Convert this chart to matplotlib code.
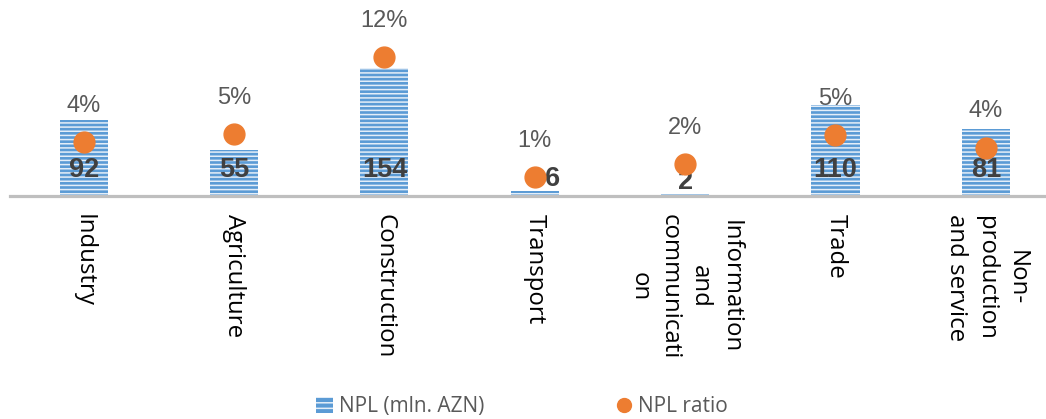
import matplotlib.pyplot as plt
from matplotlib.patches import Patch
from matplotlib.lines import Line2D

sectors = ["Industry", "Agriculture", "Construction", "Transport",
           "Information\nand\ncommunicati\non", "Trade",
           "Non-\nproduction\nand service"]
npl_mln = [92, 55, 154, 6, 2, 110, 81]
npl_ratio = [4.0, 4.7, 11.7, 0.8, 2.0, 4.6, 3.5]

BAR_BLUE = "#5b9bd5"
STRIPE = "#e4eef8"
ORANGE = "#ed7d31"

plt.rcParams["hatch.linewidth"] = 1.1

W, H = 1046, 419
fig = plt.figure(figsize=(W / 100, H / 100), dpi=100)
ax = fig.add_axes([10 / W, (H - 196) / H, 1036 / W, 196 / H])
ax2 = ax.twinx()

x = list(range(len(sectors)))
ax.bar(x, npl_mln, width=0.32, color=BAR_BLUE, edgecolor=STRIPE,
       linewidth=0, hatch="----", zorder=2)
ax2.plot(x, npl_ratio, "o", color=ORANGE, markersize=15, zorder=3)

ax.set_xlim(-0.49, 6.40)
ax.set_ylim(0, 236)
ax2.set_ylim(-0.909, 16.91)

# bar value labels
for i, v in enumerate(npl_mln):
    if v >= 31:
        ax.annotate(str(v), (i, 0), xytext=(0, 19), textcoords="offset points",
                    ha="center", va="center", fontsize=19.5, fontweight="bold",
                    color="#404040", family="Liberation Sans", zorder=5)
    else:
        dx = 13 if i == 3 else 0
        ax.annotate(str(v), (i, v), xytext=(dx, 9), textcoords="offset points",
                    ha="center", va="center", fontsize=19.5, fontweight="bold",
                    color="#404040", family="Liberation Sans", zorder=5)

# ratio labels
for i, r in enumerate(npl_ratio):
    ax2.annotate(f"{r:.0f}%", (i, r), xytext=(0, 26), textcoords="offset points",
                 ha="center", va="center", fontsize=17, color="#595959",
                 family="Liberation Sans")

for a in (ax, ax2):
    for s in ("top", "right", "left"):
        a.spines[s].set_visible(False)
    a.set_yticks([])
ax2.spines["bottom"].set_visible(False)
ax.spines["bottom"].set_color("#bfbfbf")
ax.spines["bottom"].set_linewidth(2.3)
ax.spines["bottom"].set_zorder(4)

ax.set_xticks(x)
ax.set_xticklabels(sectors, rotation=270, ha="center", va="top",
                   multialignment="center", fontsize=17.3, family="Open Sans",
                   linespacing=1.35)
ax.tick_params(axis="x", length=0, pad=13)

handles = [
    Patch(facecolor=BAR_BLUE, edgecolor=STRIPE, linewidth=0, hatch="---",
          label="NPL (mln. AZN)"),
    Line2D([], [], marker="o", linestyle="none", color=ORANGE, markersize=10,
           label="NPL ratio"),
]
fig.legend(handles=handles, loc="center", bbox_to_anchor=(0.499, 0.029),
           ncol=2, frameon=False, prop={"family": "Open Sans", "size": 15},
           labelcolor="#595959", handlelength=0.8, handleheight=0.8,
           handletextpad=0.3, columnspacing=6.3)

fig.savefig("out.png", dpi=100)
